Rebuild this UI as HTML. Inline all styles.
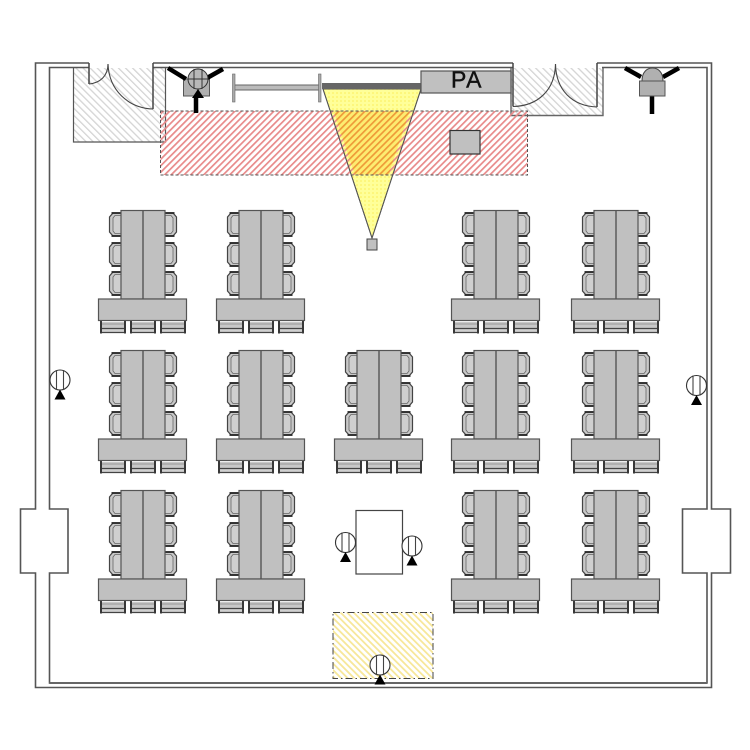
<!DOCTYPE html>
<html><head><meta charset="utf-8"><style>
html,body{margin:0;padding:0;background:#fff;width:750px;height:750px;overflow:hidden}
svg{display:block}
text{font-family:"Liberation Sans",sans-serif}
</style></head><body>
<svg width="750" height="750" viewBox="0 0 750 750" xmlns="http://www.w3.org/2000/svg">
<defs>
<pattern id="gh" width="5" height="5" patternUnits="userSpaceOnUse" patternTransform="rotate(-45)"><rect width="5" height="5" fill="#fff"/><rect width="1.3" height="5" fill="#d4d4d4"/></pattern>
<pattern id="rh" width="4.6" height="4.6" patternUnits="userSpaceOnUse" patternTransform="rotate(45)"><rect width="1.7" height="4.6" fill="#e88a8a"/></pattern>
<pattern id="oh" width="4.6" height="4.6" patternUnits="userSpaceOnUse" patternTransform="rotate(45)"><rect width="4.6" height="4.6" fill="#fdec70"/><rect width="1.7" height="4.6" fill="#ee9a38"/></pattern>
<pattern id="yh" width="4.6" height="4.6" patternUnits="userSpaceOnUse" patternTransform="rotate(-45)"><rect width="4.6" height="4.6" fill="#fff"/><rect width="1.8" height="4.6" fill="#f7e79a"/></pattern>
<pattern id="yc" width="4" height="4" patternUnits="userSpaceOnUse"><rect width="4" height="4" fill="#ffff99"/><rect width="2" height="2" fill="#fdf77c"/></pattern>
<g id="cl"><path d="M12 0H4L0.500 4V19L4 23H12" fill="#c8c8c8" stroke="#444" stroke-width="1.2"/><path d="M2.500 0H12M2.500 23H12" fill="none" stroke="#222" stroke-width="1.8"/><path d="M12 2.500H6L4 5V18L6 20.500H12" fill="#cfcfcf" stroke="#666" stroke-width=".8"/></g>
<g id="cb"><path d="M0 0V12.500M24 0V12.500" fill="none" stroke="#222" stroke-width="1.8"/><rect x="1" y="1" width="22" height="6" fill="#c8c8c8"/><path d="M1 3H23" stroke="#888" stroke-width=".7"/><rect x="1" y="7" width="22" height="4" fill="#d0d0d0"/><path d="M1 7.500H23M1 11.500H23" stroke="#444" stroke-width="1.2"/></g>
<g id="u">
<use href="#cl" x="109" y="213"/><use href="#cl" x="109" y="243"/><use href="#cl" x="109" y="272"/>
<use href="#cl" transform="translate(177 213) scale(-1 1)"/><use href="#cl" transform="translate(177 243) scale(-1 1)"/><use href="#cl" transform="translate(177 272) scale(-1 1)"/>
<use href="#cb" x="101" y="321"/><use href="#cb" x="131" y="321"/><use href="#cb" x="161" y="321"/>
<rect x="121" y="210.500" width="44" height="88.500" fill="#c0c0c0" stroke="#555" stroke-width="1.2"/>
<line x1="143" y1="210.500" x2="143" y2="299" stroke="#555" stroke-width="1.4"/>
<rect x="98.500" y="299" width="88" height="21.500" fill="#c0c0c0" stroke="#555" stroke-width="1.2"/>
</g>
<g id="m"><circle cx="0" cy="0" r="10" fill="#fff" stroke="#333" stroke-width="1.1"/><path d="M-3.500 -10V10M3.500 -10V10" stroke="#444" stroke-width="1.1"/><path d="M0 9.500L5.500 19.500H-5.500Z" fill="#000"/></g>
</defs>
<rect width="750" height="750" fill="#fff"/>

<!-- hatched rooms -->
<rect x="73.500" y="68" width="92" height="74" fill="url(#gh)" stroke="none"/>
<path d="M73.500 68V142H165.500V68" fill="none" stroke="#555" stroke-width="1.2"/>
<rect x="511" y="68" width="92" height="48" fill="url(#gh)"/>
<path d="M511 68V115.500H603V68" fill="none" stroke="#666" stroke-width="1.4"/>

<!-- walls -->
<g fill="none" stroke="#555" stroke-width="1.6">
<path d="M89 63H35.500V509H20.500V573H35.500V687.500H711.500V573H730.500V509H711.500V63H597"/>
<path d="M153 63H513"/>
<path d="M89 67.500H49.500V509H68V573H49.500V683H707V573H682.500V509H707V67.500H602"/>
<path d="M153 67.500H513"/>
</g>
<path d="M49.500 683H707" stroke="#666" stroke-width="2" fill="none"/>
<rect x="36.500" y="510" width="12" height="62" fill="#fff"/>
<rect x="708" y="510" width="3" height="62" fill="#fff"/>
<rect x="90" y="60" width="62" height="7" fill="#fff"/>
<rect x="514" y="60" width="82" height="7" fill="#fff"/>

<!-- doors -->
<g fill="none" stroke="#444" stroke-width="1.1">
<path d="M89 84C100 83 108 76 108 64"/>
<path d="M108 64C109 90 128 108 153 109"/>
<path d="M513 106.500C538 106 555 90 555.500 64"/>
<path d="M555.500 64C556 90 572 106 597 107"/>
</g>
<path d="M89 63V84M153 63V109" stroke="#444" stroke-width="1.5" fill="none"/>
<path d="M513 63V106.500M597 63V107" stroke="#444" stroke-width="1.5" fill="none"/>

<!-- projector cone -->
<path d="M323 89H421L372 238Z" fill="url(#yc)" stroke="#555" stroke-width="1"/>
<rect x="367" y="239" width="10" height="11" fill="#c0c0c0" stroke="#444" stroke-width="1"/>
<!-- red zone -->
<rect x="160.500" y="111" width="367" height="64" fill="url(#rh)" stroke="#555" stroke-width="1" stroke-dasharray="3 2"/>
<path d="M333.700 111.500H409.600L388.700 174.500H354.700Z" fill="url(#oh)"/>
<path d="M323 89L372 238L421 89" fill="none" stroke="#555" stroke-width="1"/>
<rect x="450" y="130.500" width="30" height="23.500" fill="#c0c0c0" stroke="#333" stroke-width="1.2"/>

<!-- screen -->
<rect x="234" y="85" width="86" height="5" fill="#bbb" stroke="#666" stroke-width="1"/>
<rect x="232.500" y="74" width="2.500" height="28" fill="#aaa" stroke="#666" stroke-width=".6"/>
<rect x="318.500" y="74" width="2.500" height="28" fill="#aaa" stroke="#666" stroke-width=".6"/>
<rect x="322" y="83" width="99" height="6" fill="#666"/>
<rect x="421" y="71" width="90" height="22" fill="#c0c0c0" stroke="#555" stroke-width="1.2"/>
<text x="467" y="87.500" font-size="23" text-anchor="middle" letter-spacing="1.500" fill="#111" stroke="#111" stroke-width=".4">PA</text>

<!-- left camera -->
<rect x="183.500" y="79" width="26" height="17" fill="#b0b0b0" stroke="#555" stroke-width="1"/>
<path d="M168 68L186 79M223 69L207 78M196 97V113" stroke="#000" stroke-width="4.500" fill="none"/>
<circle cx="198" cy="79" r="10" fill="#b8b8b8" stroke="#333" stroke-width="1"/>
<path d="M194 69V89M202 69V89M188 79H208" stroke="#333" stroke-width="1" fill="none"/>
<path d="M198 89L204 98H192Z" fill="#000"/>
<!-- right camera -->
<path d="M625 68L641 77M679 68L663 77M652 96V114" stroke="#000" stroke-width="4.500" fill="none"/>
<path d="M642 81C642 72 647 68 652.500 68C658 68 663 72 663 81Z" fill="#b0b0b0" stroke="#444" stroke-width="1"/>
<rect x="639.500" y="81" width="25.500" height="15" fill="#b0b0b0" stroke="#555" stroke-width="1"/>

<!-- tables -->
<use href="#u"/><use href="#u" x="118"/><use href="#u" x="353"/><use href="#u" x="473"/>
<use href="#u" y="140"/><use href="#u" x="118" y="140"/><use href="#u" x="236" y="140"/><use href="#u" x="353" y="140"/><use href="#u" x="473" y="140"/>
<use href="#u" y="280"/><use href="#u" x="118" y="280"/><use href="#u" x="353" y="280"/><use href="#u" x="473" y="280"/>

<!-- white table + mics -->
<rect x="356" y="510.500" width="46.500" height="63.500" fill="#fff" stroke="#444" stroke-width="1.2"/>
<rect x="333" y="612.500" width="100" height="66" fill="url(#yh)" stroke="#444" stroke-width="1" stroke-dasharray="7 3 1.500 3"/>
<use href="#m" x="60" y="380"/>
<use href="#m" x="696.500" y="385.500"/>
<use href="#m" x="345.500" y="542.500"/>
<use href="#m" x="412" y="546"/>
<use href="#m" x="380" y="665"/>
</svg>
</body></html>
